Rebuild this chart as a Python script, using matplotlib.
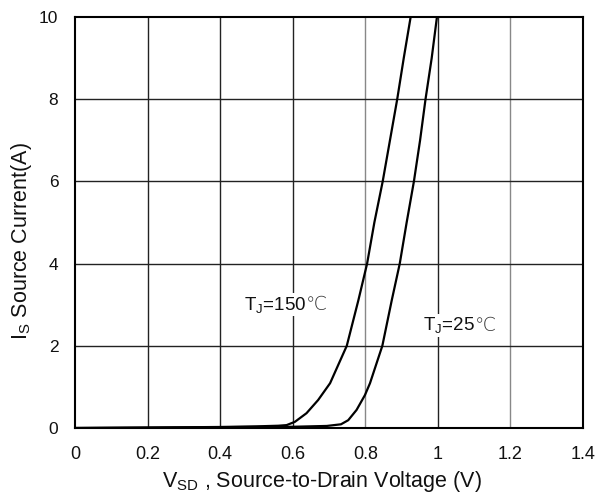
import matplotlib
matplotlib.use("Agg")
import matplotlib.pyplot as plt
import numpy as np

plt.rcParams['font.family'] = ['Liberation Sans', 'DejaVu Sans']
plt.rcParams['mathtext.fontset'] = 'custom'
plt.rcParams['mathtext.rm'] = 'Liberation Sans'
plt.rcParams['mathtext.it'] = 'Liberation Sans'

# T_J = 150 C curve (V, I)
v150 = [0.0, 0.2, 0.4, 0.5, 0.56, 0.583, 0.606, 0.638, 0.670, 0.703, 0.749, 0.781,
        0.805, 0.825, 0.848, 0.868, 0.888, 0.906, 0.925]
i150 = [0.0, 0.01, 0.025, 0.04, 0.055, 0.07, 0.15, 0.36, 0.68, 1.09, 2.0, 3.11,
        4.0, 5.0, 6.0, 7.0, 8.0, 9.0, 10.0]
# T_J = 25 C curve (V, I)
v25 = [0.0, 0.2, 0.4, 0.6, 0.694, 0.733, 0.753, 0.776, 0.799, 0.813, 0.847, 0.873,
       0.895, 0.914, 0.934, 0.951, 0.966, 0.983, 0.9975]
i25 = [0.0, 0.01, 0.02, 0.03, 0.05, 0.09, 0.19, 0.44, 0.80, 1.09, 2.0, 3.11,
       4.0, 5.0, 6.0, 7.0, 8.0, 9.0, 10.0]

xticks = [0, 0.2, 0.4, 0.6, 0.8, 1.0, 1.2, 1.4]
xticklabels = ['0', '0.2', '0.4', '0.6', '0.8', '1', '1.2', '1.4']
yticks = [0, 2, 4, 6, 8, 10]

fig = plt.figure(figsize=(5.96, 4.97), dpi=100)
ax = fig.add_axes([75/596, 1 - 428/497, (583-75)/596, (428-17)/497])

for x in xticks[1:-1]:
    col = '#888888' if x in (0.8, 1.2) else '#222222'
    ax.axvline(x, color=col, lw=1.0, zorder=1)
for y in yticks[1:-1]:
    ax.axhline(y, color='#222222', lw=1.0, zorder=1)

ax.plot(v150, i150, color='black', lw=1.6, zorder=3, solid_joinstyle='round')
ax.plot(v25, i25, color='black', lw=1.6, zorder=3, solid_joinstyle='round')

ax.set_xlim(0, 1.4)
ax.set_ylim(0, 10)
ax.set_xticks(xticks)
ax.set_xticklabels(xticklabels)
ax.set_yticks(yticks)
ax.tick_params(axis='x', length=0, labelsize=13, pad=13, labelcolor='#111111')
ax.tick_params(axis='y', length=0, labelsize=12.5, pad=12, labelcolor='#111111')
for s in ax.spines.values():
    s.set_linewidth(1.5)
    s.set_color('black')

labels = [(0.551, 3.0, 'T$_\\mathrm{J}$=150'), (1.031, 2.5, 'T$_\\mathrm{J}$=25')]
for x, y, s in labels:
    t = ax.text(x, y, s, fontsize=13.5, ha='center', va='center', color='#111111',
                bbox=dict(facecolor='white', edgecolor='none', pad=1), zorder=4)
    ax.annotate('℃', xy=(1, 0.5), xycoords=t, xytext=(0, 0), textcoords='offset points',
                fontsize=13.5, ha='left', va='center', family='DejaVu Sans', color='#333333',
                fontweight='light',
                bbox=dict(facecolor='white', edgecolor='none', pad=1), zorder=4)

ax.set_xlabel('V$_\\mathrm{SD}$ , Source-to-Drain Voltage (V)', fontsize=15.5, color='#111111')
ax.set_ylabel('I$_\\mathrm{S}$ Source Current(A)', fontsize=15.5, color='#111111')
ax.xaxis.set_label_coords(0.487, -0.100)
ax.yaxis.set_label_coords(-0.080, 0.454)

fig.savefig('out.png', dpi=100)
